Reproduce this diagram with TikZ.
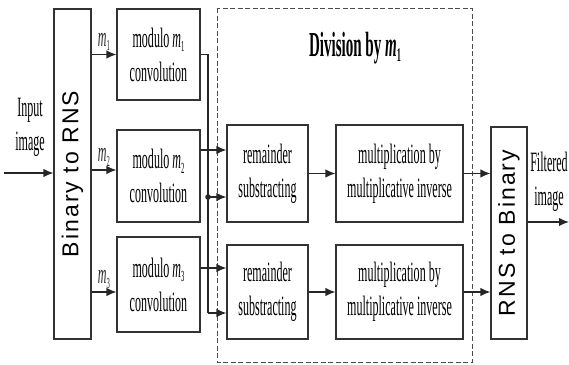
\documentclass[tikz,border=0pt]{standalone}
\usepackage{fontspec}
\setmainfont[FakeStretch=0.43]{Liberation Serif}
\newfontfamily\rnsfont[LetterSpace=9]{Liberation Sans}
\usetikzlibrary{positioning, arrows.meta}
\newcommand{\modm}[1]{\textit{m}\raisebox{-0.35ex}{\scalebox{0.55}{#1}}}

\begin{document}
\begin{tikzpicture}[x=1pt, y=-1pt, font=\fontsize{28}{34}\selectfont,
    blk/.style={draw=black!80, line width=1.1pt, inner sep=0pt, align=center},
    arr/.style={-{Latex[length=10pt,width=8.5pt]}, line width=1.4pt, black!85},
    wire/.style={line width=1.4pt, black!85}]
  \useasboundingbox (0,0) rectangle (569,364);
  % converters
  \node[blk, minimum width=37pt, minimum height=330pt] (bin) at (72.5,174)
    {\rotatebox{90}{\rnsfont\fontsize{23}{23}\selectfont Binary to RNS}};
  \node[blk, minimum width=36pt, minimum height=212pt] (rnb) at (509,233)
    {\rotatebox{90}{\rnsfont\fontsize{23}{23}\selectfont RNS to Binary}};
  % convolutions
  \node[blk, minimum width=83pt, minimum height=91pt] (mod1) at (158.5,54.5) {modulo \modm{1}\\convolution};
  \node[blk, minimum width=83pt, minimum height=92pt] (mod2) at (158.5,176) {modulo \modm{2}\\convolution};
  \node[blk, minimum width=83pt, minimum height=95pt] (mod3) at (158.5,284.5) {modulo \modm{3}\\convolution};
  % division
  \draw[black!70, line width=1pt, dash pattern=on 5pt off 2.5pt] (217,8) rectangle (472,362);
  \node (title) at (355,48) {\fontsize{35}{42}\selectfont\bfseries Division by \modm{1}};
  \node[blk, minimum width=81pt, minimum height=97pt] (rem1) at (267.5,173.5) {remainder\\substracting};
  \node[blk, minimum width=81pt, minimum height=94pt] (rem2) at (267.5,292) {remainder\\substracting};
  \node[blk, minimum width=127pt, minimum height=97pt] (mul1) at (399.5,173.5) {multiplication by\\multiplicative inverse};
  \node[blk, minimum width=127pt, minimum height=94pt] (mul2) at (399.5,292) {multiplication by\\multiplicative inverse};
  % labels
  \node[align=center] (inlbl) at (30,127) {Input\\image};
  \node[align=center] (outlbl) at (549,182) {Filtered\\image};
  % levels
  \coordinate (src) at (4,173);
  \coordinate (dst) at (569,222);
  \coordinate (lv2) at (0,170);
  \coordinate (out2) at (0,150);
  \coordinate (out3) at (0,268);
  \coordinate (tap1) at (208,197);
  \coordinate (tap2) at (208,313);
  % arrows
  \draw[arr] (src) -- (bin.west |- src);
  \draw[arr] (bin.east |- mod1.west) -- node[above=3pt, inner sep=0pt] {\modm{1}} (mod1.west);
  \draw[arr] (bin.east |- lv2) -- node[above=3pt, inner sep=0pt] {\modm{2}} (mod2.west |- lv2);
  \draw[arr] (bin.east |- rem2.west) -- node[above=3pt, inner sep=0pt] {\modm{3}} (mod3.west |- rem2.west);
  \draw[wire] (mod1.east) -| (tap2);
  \draw[arr] (tap1) -- (rem1.west |- tap1);
  \draw[arr] (tap2) -- (rem2.west |- tap2);
  \fill[black!85] (tap1) circle (2.8pt);
  \draw[arr] (mod2.east |- out2) -- (rem1.west |- out2);
  \draw[arr] (mod3.east |- out3) -- (rem2.west |- out3);
  \draw[arr] (rem1) -- (mul1);
  \draw[arr] (rem2) -- (mul2);
  \draw[arr] (mul1.east) -- (rnb.west |- mul1.east);
  \draw[arr] (mul2.east) -- (rnb.west |- mul2.east);
  \draw[arr] (rnb.east |- dst) -- (dst);
\end{tikzpicture}
\end{document}
